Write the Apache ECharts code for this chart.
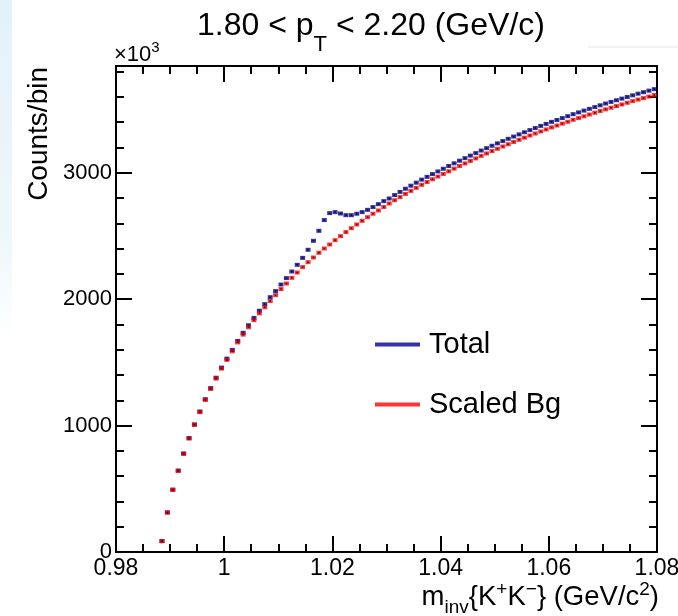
<!DOCTYPE html>
<html><head><meta charset="utf-8">
<script src="https://cdn.jsdelivr.net/npm/echarts@6.0.0/dist/echarts.min.js"></script>
<style>html,body{margin:0;padding:0;background:#fff}#c{width:678px;height:616px}</style>
</head><body><div id="c"></div>
<script>
// ---- histogram definition (bin width 1 MeV, first filled bin starts at 0.988) ----
const binStart = 0.988;
const binWidth = 0.001;

// Total (same-event) counts per bin, in units of 10^3
const totalCounts = [
  87, 314, 494, 645, 780, 902, 1010, 1112, 1209, 1297, 1379, 1459,
  1530, 1599, 1670, 1734, 1794, 1852, 1909, 1961, 2016, 2064, 2116, 2167,
  2219, 2272, 2327, 2391, 2462, 2541, 2626, 2681, 2689, 2678, 2665, 2665,
  2676, 2689, 2707, 2729, 2752, 2776, 2797, 2824, 2849, 2874, 2898, 2922,
  2946, 2968, 2990, 3011, 3032, 3054, 3075, 3096, 3116, 3136, 3156, 3176,
  3195, 3214, 3233, 3251, 3269, 3287, 3304, 3321, 3338, 3354, 3371, 3387,
  3403, 3418, 3433, 3448, 3464, 3478, 3492, 3506, 3520, 3534, 3548, 3561,
  3574, 3587, 3600, 3613, 3626, 3638, 3650, 3662
];
// Scaled background counts per bin, in units of 10^3
const bgCounts = [
  85, 311, 491, 641, 776, 897, 1005, 1106, 1203, 1290, 1372, 1451,
  1520, 1588, 1658, 1720, 1778, 1834, 1888, 1936, 1986, 2032, 2080, 2124,
  2169, 2211, 2254, 2293, 2330, 2367, 2401, 2433, 2467, 2499, 2531, 2562,
  2591, 2620, 2649, 2676, 2702, 2729, 2757, 2783, 2808, 2833, 2857, 2881,
  2905, 2927, 2949, 2970, 2991, 3012, 3033, 3054, 3074, 3094, 3114, 3134,
  3153, 3172, 3190, 3208, 3226, 3244, 3261, 3278, 3295, 3311, 3327, 3343,
  3359, 3374, 3389, 3404, 3419, 3433, 3447, 3461, 3475, 3489, 3502, 3515,
  3528, 3541, 3554, 3567, 3579, 3591, 3603, 3615
];
const seriesNames = ['Total', 'Scaled Bg'];
const xMin = 0.98, xMax = 1.08, xStep = 0.02;
const yMax = 3845;
const yMajorTicks = [0, 1000, 2000, 3000];
const yMinorTicks = [200, 400, 600, 800, 1200, 1400, 1600, 1800, 2200, 2400, 2600, 2800, 3200, 3400, 3600, 3800];

// ---- build data pairs ----
const centers = totalCounts.map((_, i) => +(binStart + (i + 0.5) * binWidth).toFixed(4));
const totalData = centers.map((x, i) => [x, totalCounts[i]]);
const bgData = centers.map((x, i) => [x, bgCounts[i]]);

const FONT = '"Liberation Sans", Arial, Helvetica, sans-serif';
const ctx = document.createElement('canvas').getContext('2d');
function tw(t, s) { ctx.font = s + 'px ' + FONT; return ctx.measureText(t).width; }
function latex(parts, o) {
  const sizes = parts.map(p => p[1] === 'n' ? o.F : o.f);
  const widths = parts.map((p, i) => tw(p[0], sizes[i]));
  const total = widths.reduce((a, b) => a + b, 0);
  let x = o.align === 'center' ? o.x - total / 2 : (o.align === 'right' ? o.x - total : o.x);
  return parts.map((p, i) => {
    const s = sizes[i];
    const base = o.baseline + (p[1] === 'sub' ? o.subShift : (p[1] === 'sup' ? -o.supShift : 0));
    const el = { type: 'text', x: x, y: base - 0.3465 * s, silent: true, z: 100,
      style: { text: p[0], fontSize: s, fontFamily: FONT, fill: '#000', align: 'left', verticalAlign: 'middle' } };
    x += widths[i];
    return el;
  });
}

const AX = { color: '#000', width: 2 };
const chart = echarts.init(document.getElementById('c'), null, { renderer: 'canvas' });

const graphics = [
  { type: 'rect', silent: true, z: 0, shape: { x: 0, y: 0, width: 12, height: 340 },
    style: { fill: new echarts.graphic.LinearGradient(0, 0, 0, 1, [
      { offset: 0, color: '#e3f1f9' }, { offset: 0.7, color: '#eef7fb' }, { offset: 1, color: '#ffffff' }]) } },
  { type: 'line', silent: true, z: 0, shape: { x1: 588, y1: 47, x2: 678, y2: 47 }, style: { stroke: '#e4e4e4', lineWidth: 1 } },
  { type: 'text', silent: true, z: 100, x: 39, y: 67, rotation: Math.PI / 2,
    style: { text: 'Counts/bin', fontSize: 28, fontFamily: FONT, fill: '#000', align: 'right', verticalAlign: 'middle' } }
].concat(
  latex([['1.80 < p', 'n'], ['T', 'sub'], [' < 2.20 (GeV/c)', 'n']],
        { x: 371, baseline: 37, align: 'center', F: 32, f: 22, subShift: 16, supShift: 0 }),
  latex([['\u00d710', 'n'], ['3', 'sup']],
        { x: 114, baseline: 63, align: 'left', F: 22, f: 15, subShift: 0, supShift: 10 }),
  latex([['m', 'n'], ['inv', 'sub'], ['{K', 'n'], ['+', 'sup'], ['K', 'n'], ['\u2212', 'sup'], ['} (GeV/c', 'n'], ['2', 'sup'], [')', 'n']],
        { x: 659, baseline: 607, align: 'right', F: 27.5, f: 19, subShift: 7, supShift: 11 })
);

const legendBase = {
  orient: 'vertical', left: 370, itemWidth: 45, itemHeight: 4, selectedMode: false,
  textStyle: { fontSize: 29, color: '#000', fontFamily: FONT, padding: [0, 0, 0, 4] }
};

const numFmt = v => String(Math.round(v * 1000) / 1000);

chart.setOption({
  animation: false,
  backgroundColor: '#fff',
  textStyle: { fontFamily: FONT },
  grid: { left: 116, right: 21, top: 66, bottom: 64, containLabel: false, outerBoundsMode: 'none' },
  legend: [
    Object.assign({}, legendBase, { top: 325, data: [{ name: seriesNames[0], icon: 'rect' }] }),
    Object.assign({}, legendBase, { top: 385, data: [{ name: seriesNames[1], icon: 'rect' }] })
  ],
  xAxis: [
    { type: 'value', position: 'bottom', min: xMin, max: xMax, interval: xStep,
      axisLine: { show: true, onZero: false, lineStyle: AX },
      axisTick: { show: true, inside: true, length: 16, lineStyle: AX },
      minorTick: { show: true, splitNumber: 4, length: 8, lineStyle: AX },
      axisLabel: { fontSize: 23, color: '#000', fontFamily: FONT, margin: 5, showMinLabel: true, showMaxLabel: true, formatter: numFmt },
      splitLine: { show: false }, minorSplitLine: { show: false } },
    { type: 'value', position: 'top', min: xMin, max: xMax, interval: xStep,
      axisLine: { show: true, onZero: false, lineStyle: AX },
      axisTick: { show: true, inside: true, length: 16, lineStyle: AX },
      minorTick: { show: true, splitNumber: 4, length: 8, lineStyle: AX },
      axisLabel: { show: false }, splitLine: { show: false } }
  ],
  yAxis: [
    { type: 'value', position: 'left', min: 0, max: yMax,
      axisLine: { show: true, onZero: false, lineStyle: AX },
      axisTick: { show: true, inside: true, length: 16, lineStyle: AX, customValues: yMajorTicks },
      axisLabel: { fontSize: 22, color: '#000', fontFamily: FONT, margin: 4, customValues: yMajorTicks, formatter: numFmt },
      splitLine: { show: false } },
    { type: 'value', position: 'left', min: 0, max: yMax,
      axisLine: { show: false },
      axisTick: { show: true, inside: true, length: 8, lineStyle: AX, customValues: yMinorTicks },
      axisLabel: { show: false }, splitLine: { show: false } },
    { type: 'value', position: 'right', min: 0, max: yMax,
      axisLine: { show: true, onZero: false, lineStyle: AX },
      axisTick: { show: true, inside: true, length: 16, lineStyle: AX, customValues: yMajorTicks },
      axisLabel: { show: false }, splitLine: { show: false } },
    { type: 'value', position: 'right', min: 0, max: yMax,
      axisLine: { show: false },
      axisTick: { show: true, inside: true, length: 8, lineStyle: AX, customValues: yMinorTicks },
      axisLabel: { show: false }, splitLine: { show: false } }
  ],
  series: [
    { type: 'scatter', name: seriesNames[0], data: totalData, xAxisIndex: 0, yAxisIndex: 0,
      symbol: 'rect', symbolSize: [5, 4], itemStyle: { color: '#00008c' }, z: 2, silent: true },
    { type: 'scatter', name: seriesNames[1], data: bgData, xAxisIndex: 0, yAxisIndex: 0,
      symbol: 'rect', symbolSize: [5, 4], itemStyle: { color: '#ff0000' }, z: 3, silent: true },
    { type: 'scatter', name: 'totalCenter', data: totalData, xAxisIndex: 0, yAxisIndex: 0,
      symbol: 'rect', symbolSize: [1.5, 1.5], itemStyle: { color: '#000' }, z: 2.5, silent: true },
    { type: 'scatter', name: 'bgCenter', data: bgData, xAxisIndex: 0, yAxisIndex: 0,
      symbol: 'rect', symbolSize: [1.5, 1.5], itemStyle: { color: '#000' }, z: 4, silent: true }
  ],
  graphic: graphics
});
</script>
</body></html>
